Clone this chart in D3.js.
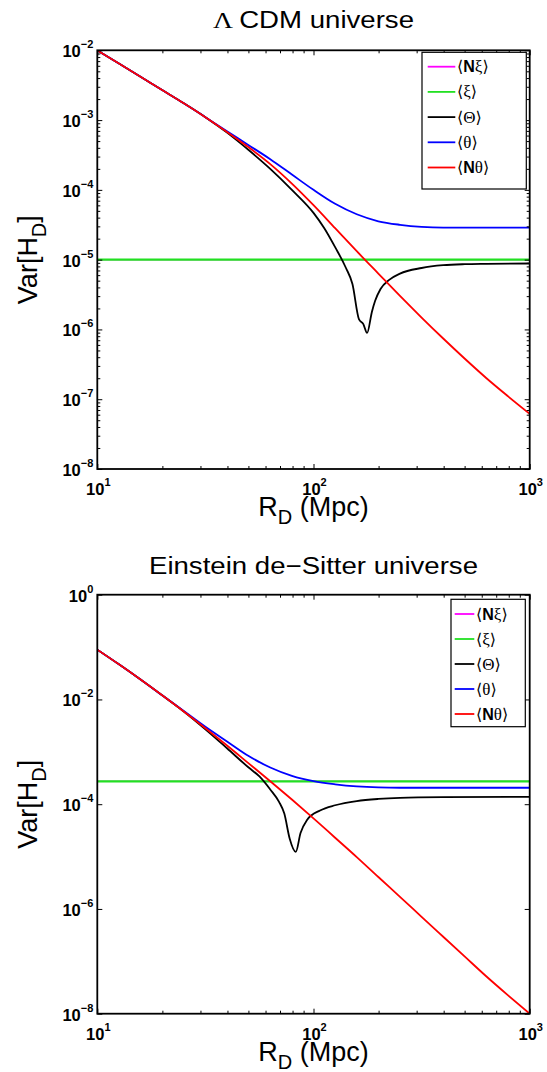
<!DOCTYPE html>
<html><head><meta charset="utf-8">
<script src="https://cdn.jsdelivr.net/npm/d3@7/dist/d3.min.js"></script>
<style>body{margin:0;background:#fff}svg{display:block}</style>
</head><body>
<script>
// ---------------- data ----------------
const rGrid = [10, 12.59, 15.85, 19.95, 25.12, 31.62, 39.81, 50.12, 63.10, 79.43, 100,
               125.9, 158.5, 199.5, 251.2, 316.2, 398.1, 501.2, 631.0, 794.3, 1000];
const rFlat = [10, 1000];

// Lambda CDM universe
const lcdmNTheta = [1.00e-2, 6.46e-3, 4.17e-3, 2.69e-3, 1.74e-3, 1.10e-3, 6.76e-4, 4.07e-4, 2.34e-4, 1.23e-4, 6.03e-5,
                    2.82e-5, 1.32e-5, 6.31e-6, 3.02e-6, 1.48e-6, 7.41e-7, 3.80e-7, 2.00e-7, 1.10e-7, 6.17e-8];
const lcdmTheta  = [1.00e-2, 6.46e-3, 4.17e-3, 2.69e-3, 1.74e-3, 1.10e-3, 6.92e-4, 4.37e-4, 2.75e-4, 1.66e-4, 1.00e-4,
                    6.31e-5, 4.47e-5, 3.55e-5, 3.16e-5, 2.95e-5, 2.88e-5, 2.88e-5, 2.88e-5, 2.88e-5, 2.88e-5];
const lcdmXi     = [1.0e-5, 1.0e-5];
const lcdmNXi    = [1.0e-5, 1.0e-5];
const lcdmBigThetaR = [10, 12.59, 15.85, 19.95, 25.12, 31.62, 39.81, 50.12, 63.10, 79.43, 100, 112.2, 125.9, 141.3,
                       151.4, 162.2, 169.8, 177.0, 186.2, 192.8, 204.2, 223.9, 251.2, 316.2, 398.1, 501.2, 631.0, 1000];
const lcdmBigTheta  = [1.00e-2, 6.46e-3, 4.17e-3, 2.69e-3, 1.74e-3, 1.10e-3, 6.61e-4, 3.72e-4, 2.00e-4, 1.00e-4, 4.68e-5,
                       2.82e-5, 1.51e-5, 7.59e-6, 4.47e-6, 1.41e-6, 1.20e-6, 8.91e-7, 1.78e-6, 2.57e-6, 3.80e-6, 5.13e-6,
                       6.31e-6, 7.59e-6, 8.32e-6, 8.61e-6, 8.71e-6, 8.81e-6];

// Einstein de-Sitter universe
const edsNTheta = [8.91e-2, 4.68e-2, 2.40e-2, 1.20e-2, 5.89e-3, 2.82e-3, 1.32e-3, 6.03e-4, 2.75e-4, 1.23e-4, 5.37e-5,
                   2.29e-5, 9.77e-6, 4.07e-6, 1.70e-6, 7.08e-7, 2.95e-7, 1.23e-7, 5.13e-8, 2.24e-8, 1.00e-8];
const edsTheta  = [8.91e-2, 4.68e-2, 2.40e-2, 1.20e-2, 6.03e-3, 3.02e-3, 1.58e-3, 8.32e-4, 5.01e-4, 3.47e-4, 2.75e-4,
                   2.40e-4, 2.19e-4, 2.09e-4, 2.06e-4, 2.06e-4, 2.06e-4, 2.06e-4, 2.06e-4, 2.06e-4, 2.06e-4];
const edsXi     = [2.73e-4, 2.73e-4];
const edsNXi    = [2.73e-4, 2.73e-4];
const edsBigThetaR = [10, 12.59, 15.85, 19.95, 25.12, 31.62, 39.81, 50.12, 56.23, 63.10, 69.18, 73.28, 77.62, 82.79,
                      87.10, 93.33, 107.2, 125.9, 158.5, 199.5, 251.2, 398.1, 1000];
const edsBigTheta  = [8.91e-2, 4.68e-2, 2.40e-2, 1.20e-2, 5.89e-3, 2.69e-3, 1.17e-3, 5.01e-4, 3.39e-4, 1.91e-4, 1.12e-4,
                      6.61e-5, 2.19e-5, 1.23e-5, 2.82e-5, 5.01e-5, 7.59e-5, 9.55e-5, 1.15e-4, 1.26e-4, 1.32e-4, 1.36e-4, 1.38e-4];

// ticks / labels
const xTickExps = [1, 2, 3];
const lcdmYTickExps = [-2, -3, -4, -5, -6, -7, -8];
const edsYTickExps = [0, -2, -4, -6, -8];
const titles = ["CDM universe", "Einstein de\u2212Sitter universe"];
const legendGreek = ["\u03BE", "\u03BE", "\u0398", "\u03B8", "\u03B8"];
const legendBoldN = [true, false, false, false, true];
const seriesColors = ["#ff00ff", "#22e022", "#000000", "#0000ff", "#ff0000"];

// ---------------- drawing ----------------
const W = 547, H = 1072;
const svg = d3.select("body").append("svg").attr("width", W).attr("height", H)
  .style("font-family", "'Liberation Sans', Arial, sans-serif");

function panel(p) {
  const x = d3.scaleLog().domain([10, 1000]).range([p.left, p.right]);
  const y = d3.scaleLog().domain([p.ymin, p.ymax]).range([p.bottom, p.top]);
  const g = svg.append("g");

  svg.append("clipPath").attr("id", "clip" + p.id).append("rect")
    .attr("x", p.left).attr("y", p.top).attr("width", p.right - p.left).attr("height", p.bottom - p.top);

  const line = d3.line().x(d => x(d[0])).y(d => y(d[1])).curve(d3.curveMonotoneX);
  p.series.forEach((s, i) => {
    g.append("path").datum(d3.zip(s.r, s.v)).attr("d", line)
      .attr("fill", "none").attr("stroke", s.color).attr("stroke-width", i === 1 ? 2.3 : (i === 0 ? 1.4 : 1.8))
      .attr("stroke-linejoin", "round").attr("clip-path", `url(#clip${p.id})`);
  });

  // ticks
  const xAll = x.ticks();
  const xMajor = xTickExps.map(e => Math.pow(10, e));
  const xMinor = xAll.filter(v => !xMajor.some(m => Math.abs(m - v) < 1e-9));
  const tickStyle = sel => { sel.select(".domain").remove(); sel.selectAll("line").attr("stroke", "#000").attr("stroke-width", 1); sel.selectAll("text").remove(); };
  g.append("g").attr("transform", `translate(0,${p.bottom})`).call(d3.axisBottom(x).tickValues(xMajor).tickSize(-5)).call(tickStyle);
  g.append("g").attr("transform", `translate(0,${p.bottom})`).call(d3.axisBottom(x).tickValues(xMinor).tickSize(-3)).call(tickStyle);
  g.append("g").attr("transform", `translate(0,${p.top})`).call(d3.axisTop(x).tickValues(xMajor).tickSize(-5)).call(tickStyle);
  g.append("g").attr("transform", `translate(0,${p.top})`).call(d3.axisTop(x).tickValues(xMinor).tickSize(-3)).call(tickStyle);

  const yMajor = p.yExps.map(e => Math.pow(10, e));
  g.append("g").attr("transform", `translate(${p.left},0)`).call(d3.axisLeft(y).tickValues(yMajor).tickSize(-5)).call(tickStyle);
  g.append("g").attr("transform", `translate(${p.right},0)`).call(d3.axisRight(y).tickValues(yMajor).tickSize(-5)).call(tickStyle);
  if (p.yMinor) {
    const yMin = y.ticks().filter(v => !yMajor.some(m => Math.abs(Math.log10(m) - Math.log10(v)) < 1e-6));
    g.append("g").attr("transform", `translate(${p.left},0)`).call(d3.axisLeft(y).tickValues(yMin).tickSize(-3)).call(tickStyle);
    g.append("g").attr("transform", `translate(${p.right},0)`).call(d3.axisRight(y).tickValues(yMin).tickSize(-3)).call(tickStyle);
  }

  // box
  g.append("rect").attr("x", p.left).attr("y", p.top).attr("width", p.right - p.left).attr("height", p.bottom - p.top)
    .attr("fill", "none").attr("stroke", "#000").attr("stroke-width", 1.8);

  // tick labels
  const supLabel = (sel, e) => {
    sel.append("tspan").text("10");
    sel.append("tspan").attr("font-size", 11).attr("dy", -9).text(e < 0 ? "\u2212" + (-e) : String(e));
  };
  xTickExps.forEach(e => {
    const t = g.append("text").attr("x", x(Math.pow(10, e)) + 1).attr("y", p.bottom + 26)
      .attr("text-anchor", "middle").attr("font-size", 16.5).attr("font-weight", "bold");
    supLabel(t, e);
  });
  p.yExps.forEach(e => {
    const t = g.append("text").attr("x", p.left - 4).attr("y", y(Math.pow(10, e)) + 7)
      .attr("text-anchor", "end").attr("font-size", 16.5).attr("font-weight", "bold");
    supLabel(t, e);
  });

  // axis titles
  const xt = g.append("text").attr("x", (p.left + p.right) / 2).attr("y", p.bottom + 47)
    .attr("text-anchor", "middle").attr("font-size", 27);
  xt.append("tspan").text("R");
  xt.append("tspan").attr("font-size", 20).attr("dy", 8).text("D");
  xt.append("tspan").attr("dy", -8).text(" (Mpc)");

  const ycy = (p.top + p.bottom) / 2;
  const yt = g.append("text").attr("transform", `translate(37,${ycy}) rotate(-90)`)
    .attr("text-anchor", "middle").attr("font-size", 27);
  yt.append("tspan").text("Var[H");
  yt.append("tspan").attr("font-size", 20).attr("dy", 9).text("D");
  yt.append("tspan").attr("dy", -9).text("]");

  // title
  const tt = g.append("text").attr("transform", `translate(${(p.left + p.right) / 2},${p.titleY}) scale(1.15,1)`)
    .attr("text-anchor", "middle").attr("font-size", 24);
  if (p.lambda) tt.append("tspan").attr("font-family", "'Liberation Serif', 'DejaVu Serif', serif").text("\u039B ");
  tt.append("tspan").text(p.title);

  // legend
  const L = p.legend;
  g.append("rect").attr("x", L.x).attr("y", L.y).attr("width", L.w).attr("height", L.h)
    .attr("fill", "#fff").attr("stroke", "#000").attr("stroke-width", 1.2);
  seriesColors.forEach((c, i) => {
    const cy = L.y0 + i * L.dy;
    g.append("line").attr("x1", L.lx1).attr("x2", L.lx2).attr("y1", cy).attr("y2", cy)
      .attr("stroke", c).attr("stroke-width", 1.8);
    const t = g.append("text").attr("x", L.tx).attr("y", cy + 5.5).attr("font-size", 16);
    const serif = "'DejaVu Serif', 'Liberation Serif', serif";
    t.append("tspan").attr("font-family", serif).attr("font-size", 16).text("\u27E8");
    if (legendBoldN[i]) t.append("tspan").attr("font-weight", "bold").text("N");
    t.append("tspan").attr("font-family", "'Liberation Serif', serif").attr("font-size", 17).text(legendGreek[i]);
    t.append("tspan").attr("font-family", serif).attr("font-size", 16).text("\u27E9");
  });
}

function seriesFor(nxi, xi, bigR, bigTheta, theta, ntheta) {
  return [
    { r: rFlat, v: nxi, color: seriesColors[0] },
    { r: rFlat, v: xi, color: seriesColors[1] },
    { r: bigR, v: bigTheta, color: seriesColors[2] },
    { r: rGrid, v: theta, color: seriesColors[3] },
    { r: rGrid, v: ntheta, color: seriesColors[4] }
  ];
}

panel({
  id: 1, left: 97.3, right: 529.7, top: 50.3, bottom: 469, ymin: 1e-8, ymax: 1e-2, titleY: 28,
  yExps: lcdmYTickExps, yMinor: true, lambda: true, title: titles[0],
  series: seriesFor(lcdmNXi, lcdmXi, lcdmBigThetaR, lcdmBigTheta, lcdmTheta, lcdmNTheta),
  legend: { x: 422, y: 52.3, w: 104.3, h: 136.7, y0: 66.7, dy: 25.2, lx1: 427.7, lx2: 455.3, tx: 457 }
});
panel({
  id: 2, left: 97.3, right: 529.7, top: 594.7, bottom: 1013.7, ymin: 1e-8, ymax: 1, titleY: 574,
  yExps: edsYTickExps, yMinor: false, lambda: false, title: titles[1],
  series: seriesFor(edsNXi, edsXi, edsBigThetaR, edsBigTheta, edsTheta, edsNTheta),
  legend: { x: 451, y: 599.3, w: 74.3, h: 127.4, y0: 614, dy: 25, lx1: 454.7, lx2: 474.3, tx: 476 }
});
</script>
</body></html>
